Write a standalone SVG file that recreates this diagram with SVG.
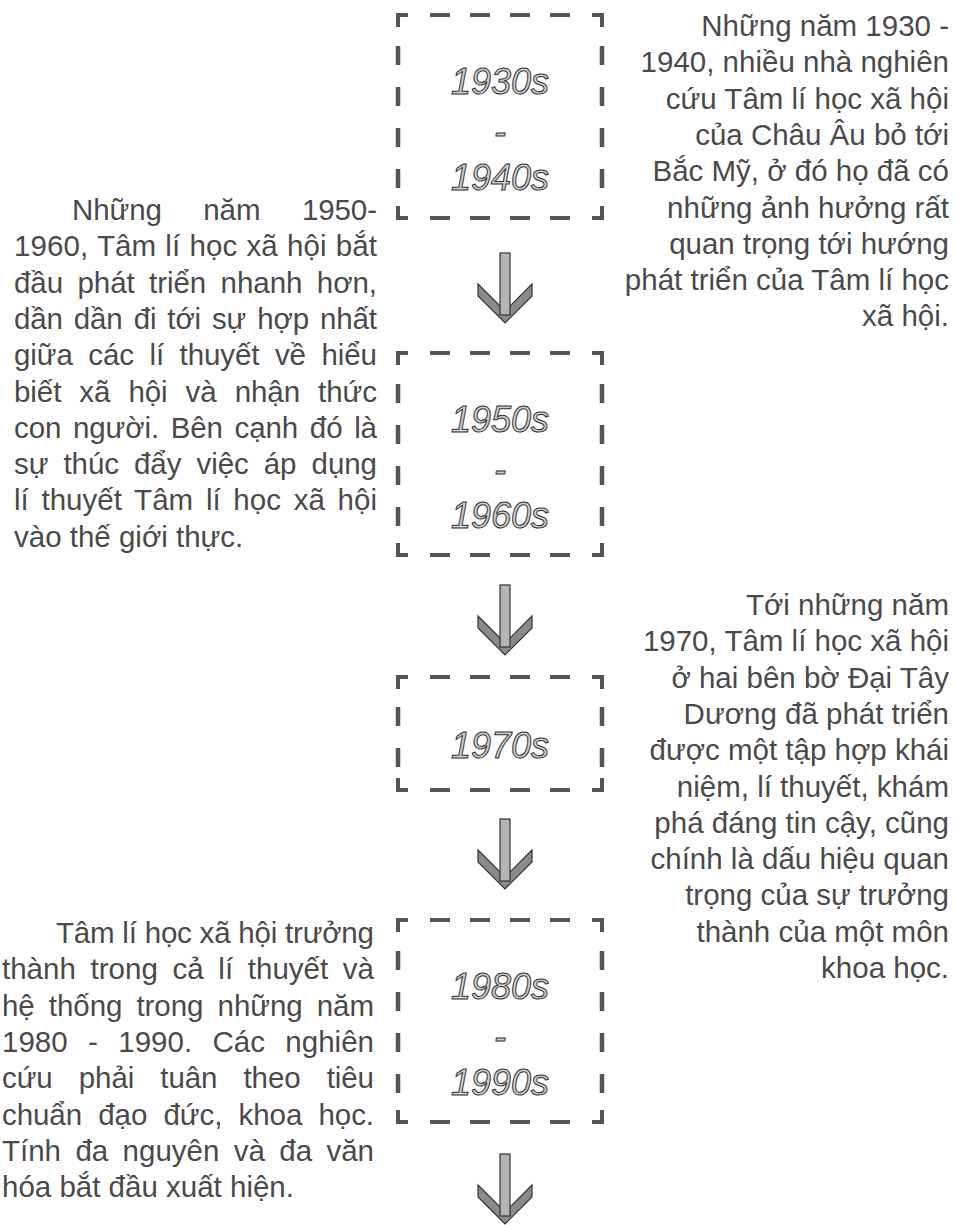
<svg xmlns="http://www.w3.org/2000/svg" width="957" height="1225" viewBox="0 0 957 1225">
<style>
.t{font-family:"Liberation Sans",Arial,sans-serif;font-size:29.5px;fill:#4a4a4a}
.r{text-anchor:end}
.y{font-family:"Liberation Sans",Arial,sans-serif;font-style:italic;font-size:36px;fill:#d0d0d0;stroke:#333;stroke-width:1;text-anchor:middle}
.c{fill:none;stroke:#555;stroke-width:4}
.h{fill:none;stroke:#555;stroke-width:4;stroke-dasharray:20 20}
.v{fill:none;stroke:#555;stroke-width:4.5;stroke-dasharray:19 22}
.chev{fill:#8a8a8a;stroke:#333;stroke-width:1.2}
.shaft{fill:#b5b5b5;stroke:#333;stroke-width:1.2}
</style>
<defs>
<g id="arrow">
<polygon class="chev" points="-27,31 0,58 27,31 27,43 0,70 -27,43"/>
<rect class="shaft" x="-5" y="0" width="10" height="62"/>
</g>
</defs>

<g id="connectors">
<use href="#arrow" transform="translate(505,253)"/>
<use href="#arrow" transform="translate(505,585)"/>
<use href="#arrow" transform="translate(505,819)"/>
<use href="#arrow" transform="translate(505,1154)"/>
</g>

<g id="box-1930s">
<path class="c" d="M398,27V15H408M592,15H602V27M398,206V218H408M592,218H602V206"/>
<path class="h" d="M430,15H570M430,218H570"/>
<path class="v" d="M398,46V188M602,46V188"/>
<text class="y" x="500" y="94">1930s</text>
<text class="y" x="500" y="144">-</text>
<text class="y" x="500" y="190">1940s</text>
</g>

<g id="box-1950s">
<path class="c" d="M398,365V353H408M592,353H602V365M398,543V555H408M592,555H602V543"/>
<path class="h" d="M430,353H570M430,555H570"/>
<path class="v" d="M398,384V526M602,384V526"/>
<text class="y" x="500" y="432">1950s</text>
<text class="y" x="500" y="482">-</text>
<text class="y" x="500" y="528">1960s</text>
</g>

<g id="box-1970s">
<path class="c" d="M398,689V677H408M592,677H602V689M398,778V790H408M592,790H602V778"/>
<path class="h" d="M430,677H570M430,790H570"/>
<path class="v" d="M398,707V767M602,707V767"/>
<text class="y" x="500" y="758">1970s</text>
</g>

<g id="box-1980s">
<path class="c" d="M398,932V920H408M592,920H602V932M398,1110V1122H408M592,1122H602V1110"/>
<path class="h" d="M430,920H570M430,1122H570"/>
<path class="v" d="M398,951V1093M602,951V1093"/>
<text class="y" x="500" y="999">1980s</text>
<text class="y" x="500" y="1049">-</text>
<text class="y" x="500" y="1095">1990s</text>
</g>

<g id="text-1930">
<text class="t r" x="949" y="36">Những năm 1930 -</text>
<text class="t r" x="949" y="72.3">1940, nhiều nhà nghiên</text>
<text class="t r" x="949" y="108.6">cứu Tâm lí học xã hội</text>
<text class="t r" x="949" y="144.9">của Châu Âu bỏ tới</text>
<text class="t r" x="949" y="181.2">Bắc Mỹ, ở đó họ đã có</text>
<text class="t r" x="949" y="217.5">những ảnh hưởng rất</text>
<text class="t r" x="949" y="253.8">quan trọng tới hướng</text>
<text class="t r" x="949" y="290.1">phát triển của Tâm lí học</text>
<text class="t r" x="949" y="326.4">xã hội.</text>
</g>

<g id="text-1950">
<text class="t" x="72" y="220" textLength="305" lengthAdjust="spacing" word-spacing="33.5">Những năm 1950-</text>
<text class="t" x="14" y="256.3" textLength="363" lengthAdjust="spacing" word-spacing="1">1960, Tâm lí học xã hội bắt</text>
<text class="t" x="14" y="292.6" textLength="363" lengthAdjust="spacing" word-spacing="6.2">đầu phát triển nhanh hơn,</text>
<text class="t" x="14" y="328.9" textLength="363" lengthAdjust="spacing" word-spacing="3">dần dần đi tới sự hợp nhất</text>
<text class="t" x="14" y="365.2" textLength="363" lengthAdjust="spacing" word-spacing="7.3">giữa các lí thuyết về hiểu</text>
<text class="t" x="14" y="401.5" textLength="363" lengthAdjust="spacing" word-spacing="9.9">biết xã hội và nhận thức</text>
<text class="t" x="14" y="437.8" textLength="363" lengthAdjust="spacing" word-spacing="3.6">con người. Bên cạnh đó là</text>
<text class="t" x="14" y="474.1" textLength="363" lengthAdjust="spacing" word-spacing="7">sự thúc đẩy việc áp dụng</text>
<text class="t" x="14" y="510.4" textLength="363" lengthAdjust="spacing" word-spacing="4.5">lí thuyết Tâm lí học xã hội</text>
<text class="t" x="14" y="546.7">vào thế giới thực.</text>
</g>

<g id="text-1970">
<text class="t r" x="949" y="615">Tới những năm</text>
<text class="t r" x="949" y="651.3">1970, Tâm lí học xã hội</text>
<text class="t r" x="949" y="687.6">ở hai bên bờ Đại Tây</text>
<text class="t r" x="949" y="723.9">Dương đã phát triển</text>
<text class="t r" x="949" y="760.2">được một tập hợp khái</text>
<text class="t r" x="949" y="796.5">niệm, lí thuyết, khám</text>
<text class="t r" x="949" y="832.8">phá đáng tin cậy, cũng</text>
<text class="t r" x="949" y="869.1">chính là dấu hiệu quan</text>
<text class="t r" x="949" y="905.4">trọng của sự trưởng</text>
<text class="t r" x="949" y="941.7">thành của một môn</text>
<text class="t r" x="949" y="978">khoa học.</text>
</g>

<g id="text-1980">
<text class="t" x="56" y="943" textLength="318" lengthAdjust="spacing">Tâm lí học xã hội trưởng</text>
<text class="t" x="2" y="979.3" textLength="372" lengthAdjust="spacing" word-spacing="6.5">thành trong cả lí thuyết và</text>
<text class="t" x="2" y="1015.6" textLength="372" lengthAdjust="spacing" word-spacing="6">hệ thống trong những năm</text>
<text class="t" x="2" y="1051.9" textLength="372" lengthAdjust="spacing" word-spacing="12.2">1980 - 1990. Các nghiên</text>
<text class="t" x="2" y="1088.2" textLength="372" lengthAdjust="spacing" word-spacing="17.9">cứu phải tuân theo tiêu</text>
<text class="t" x="2" y="1124.5" textLength="372" lengthAdjust="spacing" word-spacing="8.1">chuẩn đạo đức, khoa học.</text>
<text class="t" x="2" y="1160.8" textLength="372" lengthAdjust="spacing" word-spacing="6.2">Tính đa nguyên và đa văn</text>
<text class="t" x="2" y="1197.1">hóa bắt đầu xuất hiện.</text>
</g>
</svg>
